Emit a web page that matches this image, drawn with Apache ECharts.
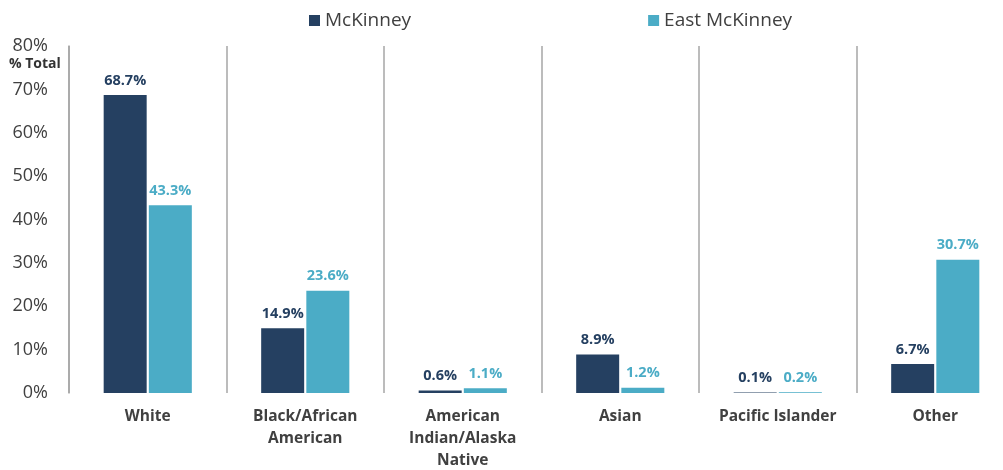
<!DOCTYPE html>
<html>
<head>
<meta charset="utf-8">
<script src="https://cdn.jsdelivr.net/npm/echarts@6/dist/echarts.min.js"></script>
<style>
  html, body { margin: 0; padding: 0; background: #fff; }
  #chart { width: 1003px; height: 470px; }
</style>
</head>
<body>
<div id="chart"></div>
<script>
// race / ethnicity share, % of total population
const categories = ['White', 'Black/African\nAmerican', 'American\nIndian/Alaska\nNative', 'Asian', 'Pacific Islander', 'Other'];
const mckinney = [68.7, 14.9, 0.6, 8.9, 0.1, 6.7];
const eastMckinney = [43.3, 23.6, 1.1, 1.2, 0.2, 30.7];
const seriesNames = ['McKinney', 'East McKinney'];

const FONT = '"Open Sans", sans-serif';
const DARK = '#254061';
const LIGHT = '#4bacc6';

const chart = echarts.init(document.getElementById('chart'));

const labelFor = (color) => ({
  show: true,
  position: 'top',
  distance: 7,
  color: color,
  fontFamily: FONT,
  fontWeight: 'bold',
  fontSize: 14.5,
  formatter: (p) => p.value.toFixed(1) + '%'
});

chart.setOption({
  animation: false,
  textStyle: { fontFamily: FONT },
  legend: {
    top: 6,
    left: 304,
    itemWidth: 11,
    itemHeight: 11,
    itemGap: 237,
    icon: 'rect',
    textStyle: { fontSize: 19, color: '#404040', fontFamily: FONT },
    data: seriesNames
  },
  graphic: [{
    type: 'text',
    left: 9,
    top: 57,
    style: { text: '% Total', fontFamily: FONT, fontWeight: 'bold', fontSize: 14, fill: '#333' }
  }],
  // the plot runs a little past the right edge of the picture
  grid: { left: 69, top: 46, width: 945, height: 347, outerBoundsMode: 'none', containLabel: false },
  xAxis: {
    type: 'category',
    data: categories,
    axisLine: { show: false },
    axisTick: { show: false },
    splitLine: { show: true, lineStyle: { color: '#a6a6a6', width: 1.5 } },
    axisLabel: {
      interval: 0,
      margin: 13,
      color: '#404040',
      fontFamily: FONT,
      fontWeight: 'bold',
      fontSize: 15.5,
      lineHeight: 22
    }
  },
  yAxis: {
    type: 'value',
    min: 0,
    max: 80,
    interval: 10,
    axisLine: { show: true, lineStyle: { color: '#a6a6a6', width: 1.5 } },
    axisTick: { show: false },
    splitLine: { show: false },
    axisLabel: {
      margin: 21,
      color: '#404040',
      fontFamily: FONT,
      fontSize: 18,
      formatter: '{value}%'
    }
  },
  series: [
    {
      name: seriesNames[0],
      type: 'bar',
      data: mckinney,
      barWidth: 43,
      barGap: '5%',
      itemStyle: { color: DARK },
      label: labelFor(DARK)
    },
    {
      name: seriesNames[1],
      type: 'bar',
      data: eastMckinney,
      barWidth: 43,
      barGap: '5%',
      itemStyle: { color: LIGHT },
      label: labelFor(LIGHT)
    }
  ]
});
</script>
</body>
</html>
